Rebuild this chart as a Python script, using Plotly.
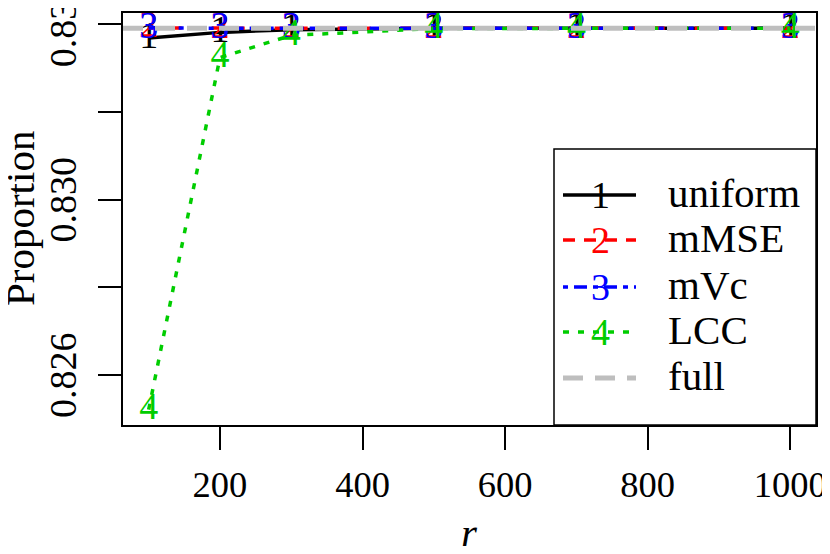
import plotly.graph_objects as go

# ---- data ----
r_vals = [100, 200, 300, 500, 700, 1000]
uniform = [0.833685, 0.833813, 0.833875, 0.833905, 0.833906, 0.833906]
mMSE = [0.833915, 0.833905, 0.833906, 0.833906, 0.833906, 0.833906]
mVc = [0.833912, 0.833903, 0.833906, 0.833906, 0.833906, 0.833906]
LCC = [0.825210, 0.833240, 0.833745, 0.833900, 0.833905, 0.833906]
full = 0.833907

series_names = ["uniform", "mMSE", "mVc", "LCC"]
series_vals = [uniform, mMSE, mVc, LCC]
series_syms = ["1", "2", "3", "4"]
series_cols = ["#000000", "#FF0000", "#0000FF", "#00CD00"]
series_dash = ["solid", "12px,9px", "5px,6px,13px,6px", "6px,9px"]
series_width = [3.5, 3.5, 3.5, 3.5]
full_col = "#BEBEBE"
full_dash = "20px,12px"

y_tickvals = [0.826, 0.828, 0.830, 0.832, 0.834]
y_ticktext = ["0.826", "", "0.830", "", "0.834"]
x_tickvals = [200, 400, 600, 800, 1000]
x_ticktext = ["200", "400", "600", "800", "1000"]

FONT = "Liberation Serif"
FS = 38
FS_LEG = 41

# page body has an 8px margin: lay out in screen pixels, convert to figure pixels
OFF = 8
FIG_W, FIG_H = 830 - OFF, 554 - 2 * OFF
L, R, T, B = 123 - OFF, 816 - OFF, 13 - OFF, 425 - OFF
W, H = R - L, B - T
def px(xs):
    return (xs - OFF - L) / W
def py(ys):
    return (B - (ys - OFF)) / H

fig = go.Figure()
for name, vals, sym, col, dash, w in zip(series_names, series_vals, series_syms,
                                         series_cols, series_dash, series_width):
    fig.add_trace(go.Scatter(
        x=r_vals, y=vals, mode="lines+text", name=name,
        text=[sym] * len(r_vals), textposition="middle center",
        textfont=dict(family=FONT, size=FS, color=col),
        line=dict(color=col, width=w, dash=dash),
        showlegend=False, cliponaxis=False,
    ))

# full-data reference line (abline h=)
fig.add_shape(type="line", xref="paper", yref="y", x0=0, x1=1, y0=full, y1=full,
              line=dict(color=full_col, width=5, dash=full_dash), layer="above")

# ---- manual legend (R style) ----
fig.add_shape(type="rect", xref="paper", yref="paper",
              x0=px(554), x1=1, y0=0, y1=py(149),
              line=dict(color="black", width=1.5), fillcolor="white", layer="above")

leg_names = series_names + ["full"]
leg_cols = series_cols + [full_col]
leg_dash = series_dash + [full_dash]
leg_w = series_width + [5]
leg_syms = series_syms + [""]
leg_y = [195, 240, 287, 332, 378]
for name, col, dash, w, sym, yy in zip(leg_names, leg_cols, leg_dash, leg_w, leg_syms, leg_y):
    fig.add_shape(type="line", xref="paper", yref="paper",
                  x0=px(563), x1=px(636), y0=py(yy), y1=py(yy),
                  line=dict(color=col, width=w, dash=dash), layer="above")
    if sym:
        fig.add_annotation(xref="paper", yref="paper", x=px(600), y=py(yy),
                           text=sym, showarrow=False, xanchor="center", yanchor="middle",
                           font=dict(family=FONT, size=FS, color=col))
    fig.add_annotation(xref="paper", yref="paper", x=px(666), y=py(yy - 2),
                       text=name, showarrow=False, xanchor="left", yanchor="middle",
                       font=dict(family=FONT, size=FS_LEG, color="black"))

# ---- rotated y tick labels (R las=0 style), placed on the y scale ----
for tv, tt in zip(y_tickvals, y_ticktext):
    if tt:
        fig.add_annotation(xref="paper", yref="y", x=px(63), y=tv, text=tt,
                           textangle=-90, showarrow=False,
                           xanchor="center", yanchor="middle",
                           font=dict(family=FONT, size=FS, color="black"))

# axis titles
fig.add_annotation(xref="paper", yref="paper", x=px(20), y=0.5, text="Proportion",
                   textangle=-90, showarrow=False, xanchor="center", yanchor="middle",
                   font=dict(family=FONT, size=41, color="black"))
fig.add_annotation(xref="paper", yref="paper", x=0.5, y=py(533), text="<i>r</i>",
                   showarrow=False, xanchor="center", yanchor="middle",
                   font=dict(family=FONT, size=41, color="black"))

fig.update_layout(
    width=FIG_W, height=FIG_H,
    margin=dict(l=L, r=FIG_W - R, t=T, b=FIG_H - B),
    plot_bgcolor="white", paper_bgcolor="white",
    font=dict(family=FONT, size=FS, color="black"),
    showlegend=False,
)
fig.update_xaxes(
    range=[64, 1036], tickmode="array", tickvals=x_tickvals, ticktext=x_ticktext,
    ticks="outside", ticklen=23, tickwidth=1.5, tickcolor="black",
    showline=True, linecolor="black", linewidth=1.5, mirror=True, automargin=False,
    showgrid=False, zeroline=False, ticklabelstandoff=3, ticklabeloverflow="allow",
    tickfont=dict(family=FONT, size=36.5),
)
fig.update_yaxes(
    range=[0.824860, 0.834255], tickmode="array", tickvals=y_tickvals,
    showticklabels=False,
    ticks="outside", ticklen=23, tickwidth=1.5, tickcolor="black",
    showline=True, linecolor="black", linewidth=1.5, mirror=True, automargin=False,
    showgrid=False, zeroline=False,
)

fig.write_html("out.html")
